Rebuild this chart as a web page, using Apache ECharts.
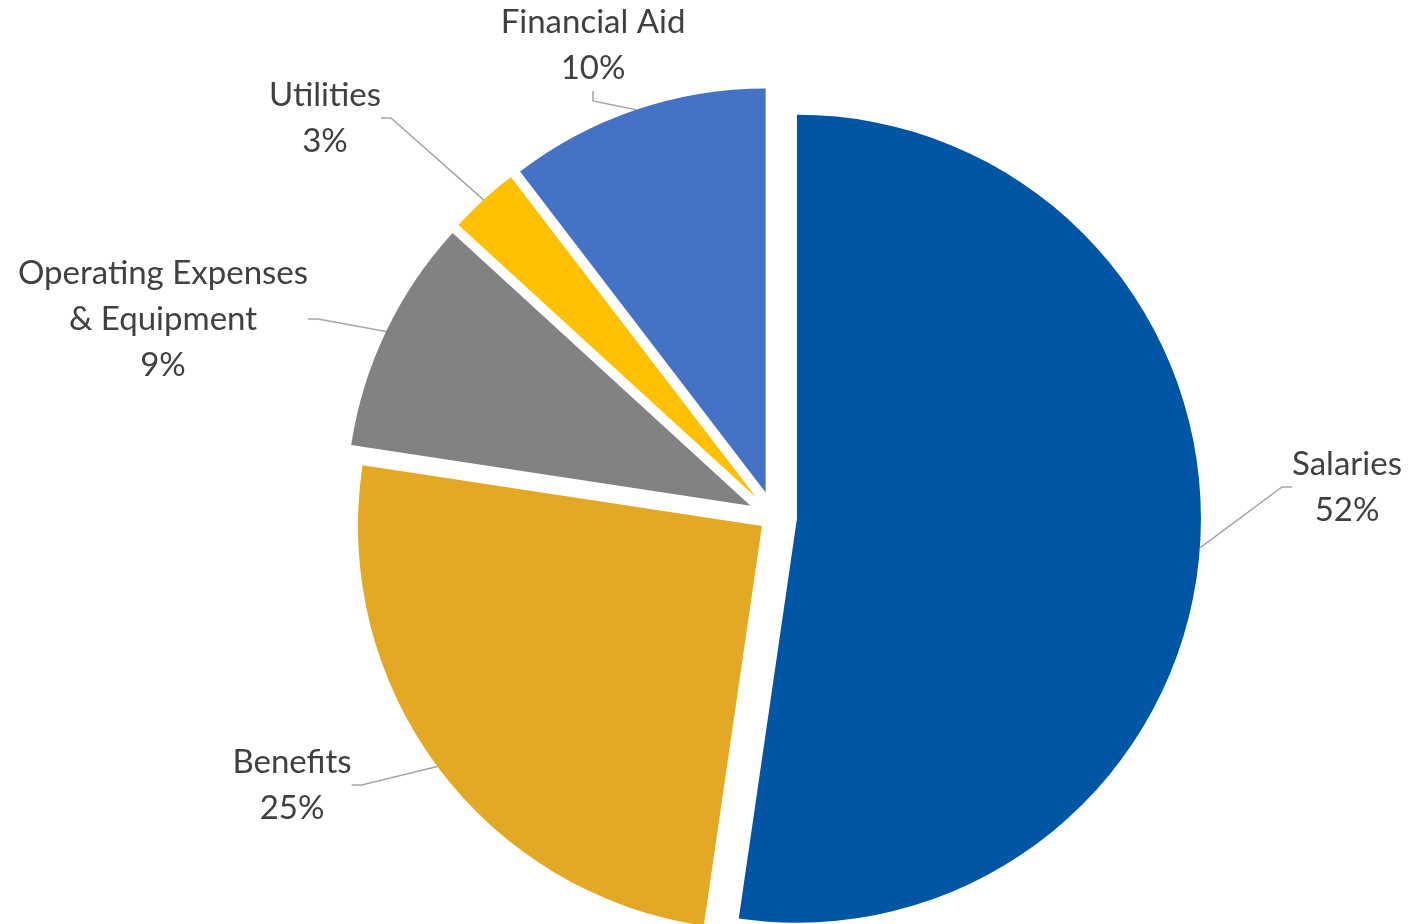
<!DOCTYPE html>
<html><head><meta charset="utf-8">
<script src="https://cdn.jsdelivr.net/npm/echarts@6/dist/echarts.min.js"></script>
<style>html,body{margin:0;padding:0;background:#fff}#c{width:1414px;height:924px}</style>
</head><body><div id="c"></div><script>
// data (shares in %; labels show rounded values)
const categories = ['Salaries', 'Benefits', 'Operating Expenses\n& Equipment', 'Utilities', 'Financial Aid'];
const values = [52.3, 25.1, 9.4, 2.8, 10.4];

// styles
const colors = ['#0055A4', '#E3A824', '#808382', '#FFC000', '#4472C4'];
const explodeOffsets = [23, 15, 26, 26, 26];
const labelAnchors = [[1347, 487], [292, 785], [163, 319], [325, 118], [593, 45]];
const baseCenter = [774, 517];

const chart = echarts.init(document.getElementById('c'), null, {renderer: 'canvas'});

const total = values.reduce(function (s, v) { return s + v; }, 0);

const series = categories.map(function (_, k) {
  // explode offset: shift this slice's pie along the slice's mid direction
  let before = 0;
  for (let i = 0; i < k; i++) before += values[i];
  const mid = (before + values[k] / 2) / total * 2 * Math.PI;
  const d = explodeOffsets[k];
  const cx = baseCenter[0] + d * Math.sin(mid);
  const cy = baseCenter[1] - d * Math.cos(mid);
  return {
    type: 'pie',
    center: [cx, cy],
    radius: 404,
    startAngle: 90,
    clockwise: true,
    silent: true,
    avoidLabelOverlap: false,
    z: 2 + k,
    data: categories.map(function (name, i) {
      const visible = i === k;
      return {
        name: name,
        value: values[i],
        itemStyle: {color: visible ? colors[i] : 'rgba(0,0,0,0)', borderWidth: 0},
        label: {show: visible},
        labelLine: {show: visible}
      };
    }),
    label: {
      position: 'outside',
      formatter: function (p) { return p.name + '\n' + Math.round(p.value) + '%'; },
      fontFamily: 'Lato',
      fontSize: 33,
      lineHeight: 46,
      color: '#404040',
      align: 'center',
      overflow: 'none'
    },
    labelLine: {
      length: 10,
      length2: 10,
      lineStyle: {color: '#A6A6A6', width: 1.5}
    },
    labelLayout: function (params) {
      const a = labelAnchors[params.dataIndex];
      return {x: a[0], y: a[1], align: 'center', verticalAlign: 'middle'};
    }
  };
});

chart.setOption({
  animation: false,
  backgroundColor: '#ffffff',
  series: series
});
</script></body></html>
